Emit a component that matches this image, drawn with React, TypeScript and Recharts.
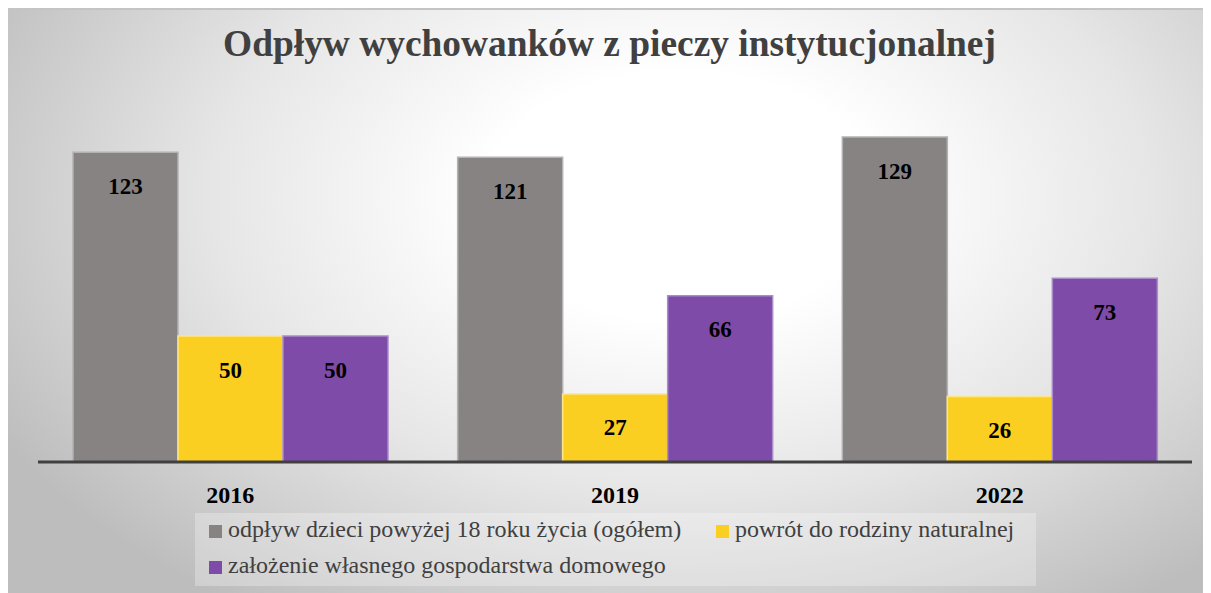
import React from "react";
import { BarChart, Bar, XAxis, YAxis, LabelList } from "recharts";

const categories = ["2016", "2019", "2022"];
const seriesNames = [
  "odpływ dzieci powyżej 18 roku życia (ogółem)",
  "powrót do rodziny naturalnej",
  "założenie własnego gospodarstwa domowego",
];
const odplywOgolem = [123, 121, 129];
const powrotDoRodziny = [50, 27, 26];
const zalozenieGospodarstwa = [50, 66, 73];
const seriesColors = ["#878382", "#FACF22", "#7F4BA8"];
const strokeColors = ["#b4b2b2", "#fde58a", "#a98cc9"];
const title = "Odpływ wychowanków z pieczy instytucjonalnej";

const keys = ["s0", "s1", "s2"];
const data = categories.map((c, i) => ({
  name: c,
  s0: odplywOgolem[i],
  s1: powrotDoRodziny[i],
  s2: zalozenieGospodarstwa[i],
}));

const FONT = "Liberation Serif";

const W = 1203;
const H = 585;

const renderLabel = (props: any) => {
  const { x, y, width, value } = props;
  return (
    <text
      x={x + width / 2}
      y={y + 34}
      textAnchor="middle"
      dominantBaseline="central"
      style={{ fontFamily: FONT, fontWeight: 700, fontSize: 23 }}
      fill="#000"
    >
      {value}
    </text>
  );
};

const renderTick = (props: any) => {
  const { x, y, payload } = props;
  return (
    <text
      x={x}
      y={y + 33}
      textAnchor="middle"
      dominantBaseline="central"
      style={{ fontFamily: FONT, fontWeight: 700, fontSize: 24 }}
      fill="#000"
    >
      {payload.value}
    </text>
  );
};

const LegendItem = ({ i, left, top }: { i: number; left: number; top: number }) => (
  <div
    style={{
      position: "absolute",
      left,
      top,
      height: 36,
      display: "flex",
      alignItems: "center",
      whiteSpace: "nowrap",
    }}
  >
    <span
      style={{
        display: "inline-block",
        width: 13,
        height: 13,
        background: seriesColors[i],
        marginRight: 6,
      }}
    />
    <span
      style={{
        fontFamily: FONT,
        fontSize: 24,
        color: "#404040",
        lineHeight: "36px",
        position: "relative",
        top: -2,
      }}
    >
      {seriesNames[i]}
    </span>
  </div>
);

const LegendBox = () => (
  <div
    style={{
      position: "absolute",
      left: 187,
      top: 503,
      width: 841,
      height: 73,
      background: "rgba(255,255,255,0.28)",
    }}
  >
    <LegendItem i={0} left={14} top={0} />
    <LegendItem i={1} left={521} top={0} />
    <LegendItem i={2} left={14} top={36} />
  </div>
);

export default function App() {
  return (
    <div
      style={{
        position: "relative",
        width: W,
        height: H,
        fontFamily: FONT,
        borderTop: "2px solid #c4c4c4",
        boxSizing: "border-box",
        background:
          "radial-gradient(ellipse 65% 85% at 56% 32%, #ffffff 25%, #e6e6e6 60%, #bdbdbd 100%)",
      }}
    >
      <div
        style={{
          position: "absolute",
          left: 0,
          top: 11,
          width: W,
          textAlign: "center",
          fontFamily: FONT,
          fontWeight: 700,
          fontSize: 37.4,
          color: "#404040",
          lineHeight: "46px",
          whiteSpace: "nowrap",
        }}
      >
        {title}
      </div>
      <BarChart
        width={W}
        height={H - 2}
        data={data}
        margin={{ top: 99.4, right: 19, bottom: 91, left: 30 }}
        barGap={0}
        barSize={105}
        style={{ position: "absolute", left: 0, top: 0 }}
      >
        <XAxis
          dataKey="name"
          axisLine={{ stroke: "#404040", strokeWidth: 3 }}
          tickLine={false}
          tickSize={0}
          tickMargin={0}
          height={40}
          tick={renderTick}
          interval={0}
        />
        <YAxis hide domain={[0, 140]} />
        {keys.map((k, i) => (
          <Bar
            key={k}
            dataKey={k}
            name={seriesNames[i]}
            fill={seriesColors[i]}
            stroke={strokeColors[i]}
            strokeWidth={1.5}
            isAnimationActive={false}
          >
            <LabelList dataKey={k} content={renderLabel} />
          </Bar>
        ))}
      </BarChart>
      <LegendBox />
    </div>
  );
}
